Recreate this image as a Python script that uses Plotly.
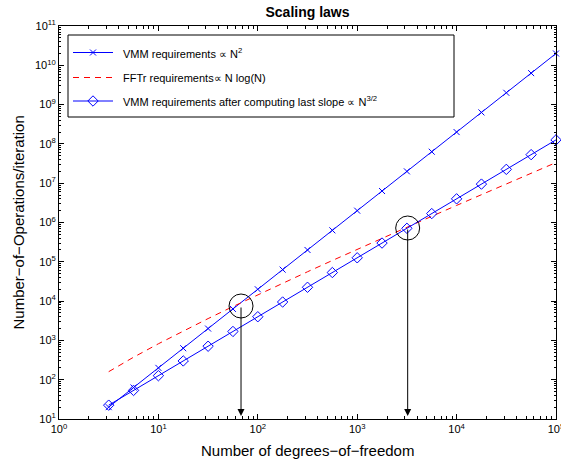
import math
import plotly.graph_objects as go

# ---------------- data ----------------
dof = [3.162, 5.623, 10, 17.78, 31.62, 56.23, 100, 177.8, 316.2, 562.3,
       1000, 1778, 3162, 5623, 10000, 17780, 31620, 56230, 100000]
vmm_ops = [20, 63.2, 200, 632, 2000, 6320, 2.0e4, 6.32e4, 2.0e5, 6.32e5,
           2.0e6, 6.32e6, 2.0e7, 6.32e7, 2.0e8, 6.32e8, 2.0e9, 6.32e9, 2.0e10]
fftr_ops = [160, 373, 821, 1740, 3590, 7270, 1.45e4, 2.87e4, 5.58e4, 1.08e5,
            2.08e5, 3.99e5, 7.59e5, 1.44e6, 2.72e6, 5.11e6, 9.58e6, 1.79e7, 3.35e7]
vmm_slope_ops = [22.5, 53.3, 126.5, 300, 711, 1687, 4000, 9486, 2.249e4, 5.334e4,
                 1.265e5, 3.0e5, 7.113e5, 1.687e6, 4.0e6, 9.486e6, 2.249e7, 5.334e7, 1.265e8]

crossover_dof = [67.8, 3220]
crossover_ops = [7500, 7.24e5]
arrow_tip_ops = 12.0

x_tick_vals = [1, 10, 100, 1000, 1e4, 1e5]
x_tick_text = ["10<sup>0</sup>", "10<sup>1</sup>", "10<sup>2</sup>", "10<sup>3</sup>",
               "10<sup>4</sup>", "10<sup>5</sup>"]
y_tick_vals = [10 ** k for k in range(1, 12)]
y_tick_text = ["10<sup>%d</sup>" % k for k in range(1, 12)]

legend_labels = ["VMM requirements \u221d N<sup>2</sup>",
                 "FFTr requirements\u221d N log(N)",
                 "VMM requirements after computing last slope \u221d N<sup>3/2</sup>"]

FONT = "Liberation Sans, Arial, Helvetica, sans-serif"
BLUE = "#0000ff"
RED = "#ff0000"
W, H = 561, 464

fig = go.Figure()

fig.add_trace(go.Scatter(x=dof, y=vmm_ops, mode="lines+markers", cliponaxis=False,
                         line=dict(color=BLUE, width=1),
                         marker=dict(symbol="x-thin", size=6, color=BLUE, line=dict(color=BLUE, width=1)),
                         showlegend=False))
fig.add_trace(go.Scatter(x=dof, y=fftr_ops, mode="lines", cliponaxis=False,
                         line=dict(color=RED, width=1, dash="6px,5px"),
                         showlegend=False))
fig.add_trace(go.Scatter(x=dof, y=vmm_slope_ops, mode="lines+markers", cliponaxis=False,
                         line=dict(color=BLUE, width=1),
                         marker=dict(symbol="diamond-open", size=8, color=BLUE,
                                     line=dict(color=BLUE, width=1)),
                         showlegend=False))
# crossover circles
fig.add_trace(go.Scatter(x=crossover_dof, y=crossover_ops, mode="markers", cliponaxis=False,
                         marker=dict(symbol="circle-open", size=24, color="black",
                                     line=dict(color="black", width=1)),
                         showlegend=False, hoverinfo="skip"))

# ---------------- custom legend (overlay axes in pixel-like units) ----------------
rows = [52.5, 77.5, 101]
fig.add_shape(type="rect", xref="x2", yref="y2", x0=68, x1=454, y0=35, y1=117,
              line=dict(color="black", width=1), fillcolor="white", layer="below")
styles = [
    dict(color=BLUE, dash="solid", symbol="x-thin", size=6),
    dict(color=RED, dash="6px,5px", symbol=None, size=0),
    dict(color=BLUE, dash="solid", symbol="diamond-open", size=8),
]
for r, lab, st in zip(rows, legend_labels, styles):
    fig.add_shape(type="line", xref="x2", yref="y2", x0=73, x1=113, y0=r, y1=r,
                  line=dict(color=st["color"], width=1, dash=st["dash"]), layer="above")
    if st["symbol"] is not None:
        fig.add_trace(go.Scatter(x=[93], y=[r], xaxis="x2", yaxis="y2", mode="markers",
                                 marker=dict(symbol=st["symbol"], size=st["size"], color=st["color"],
                                             line=dict(color=st["color"], width=1)),
                                 showlegend=False, hoverinfo="skip"))
    fig.add_annotation(x=121, y=r, xref="x2", yref="y2", text=lab, showarrow=False,
                       xanchor="left", yanchor="middle", font=dict(size=11, color="black", family=FONT))

# ---------------- arrows ----------------
for n, ops in zip(crossover_dof, crossover_ops):
    lx, ly = math.log10(n), math.log10(ops)
    fig.add_annotation(x=lx, y=math.log10(arrow_tip_ops), ax=lx, ay=ly, xref="x", yref="y",
                       axref="x", ayref="y", text="", showarrow=True, arrowhead=2,
                       arrowsize=1.4, arrowwidth=1, arrowcolor="black", standoff=0)

axis_common = dict(type="log", showline=True, linecolor="black", linewidth=1, mirror="allticks",
                   ticks="inside", ticklen=5, tickcolor="black", tickwidth=1, showgrid=False,
                   zeroline=False, tickfont=dict(size=11, color="black", family=FONT),
                   tickmode="array", ticklabeloverflow="allow", automargin=False)
fig.update_layout(
    width=W, height=H,
    margin=dict(l=59, r=5, t=26, b=45, autoexpand=False),
    paper_bgcolor="white", plot_bgcolor="white",
    font=dict(family=FONT, color="black"),
    title=dict(text="<b>Scaling laws</b>", x=307.5 / W, xanchor="center",
               y=1 - 12.5 / H, yanchor="middle",
               font=dict(size=14, color="black", family=FONT)),
    xaxis=dict(range=[0, 5], tickvals=x_tick_vals, ticktext=x_tick_text,
               minor=dict(tickmode="array", tickvals=[m * 10 ** d for d in range(0, 5) for m in range(2, 10)],
                          ticks="inside", ticklen=3, tickcolor="black", tickwidth=1, showgrid=False),
               **axis_common),
    yaxis=dict(range=[1, 11], tickvals=y_tick_vals, ticktext=y_tick_text,
               minor=dict(tickmode="array", tickvals=[m * 10 ** d for d in range(1, 11) for m in range(2, 10)],
                          ticks="inside", ticklen=2, tickcolor="black", tickwidth=1, showgrid=False),
               **axis_common),
    xaxis2=dict(overlaying="x", anchor="y2", range=[59, 556], visible=False, fixedrange=True),
    yaxis2=dict(overlaying="y", anchor="x2", range=[419, 26], visible=False, fixedrange=True),
    showlegend=False,
)
fig.add_annotation(text="Number of degrees\u2212of\u2212freedom", xref="paper", yref="paper",
                   x=0.5, y=0, yanchor="middle", yshift=-31, showarrow=False,
                   font=dict(size=15, color="black", family=FONT))
fig.add_annotation(text="Number\u2212of\u2212Operations/iteration", xref="paper", yref="paper",
                   x=0, y=0.5, xanchor="center", yanchor="middle", xshift=-41, textangle=-90,
                   showarrow=False, font=dict(size=15, color="black", family=FONT))

fig.write_html("out.html", config={"displayModeBar": False},
               post_script="document.body.style.margin='0';document.body.style.padding='0';"
                           "document.documentElement.style.overflow='hidden';")
